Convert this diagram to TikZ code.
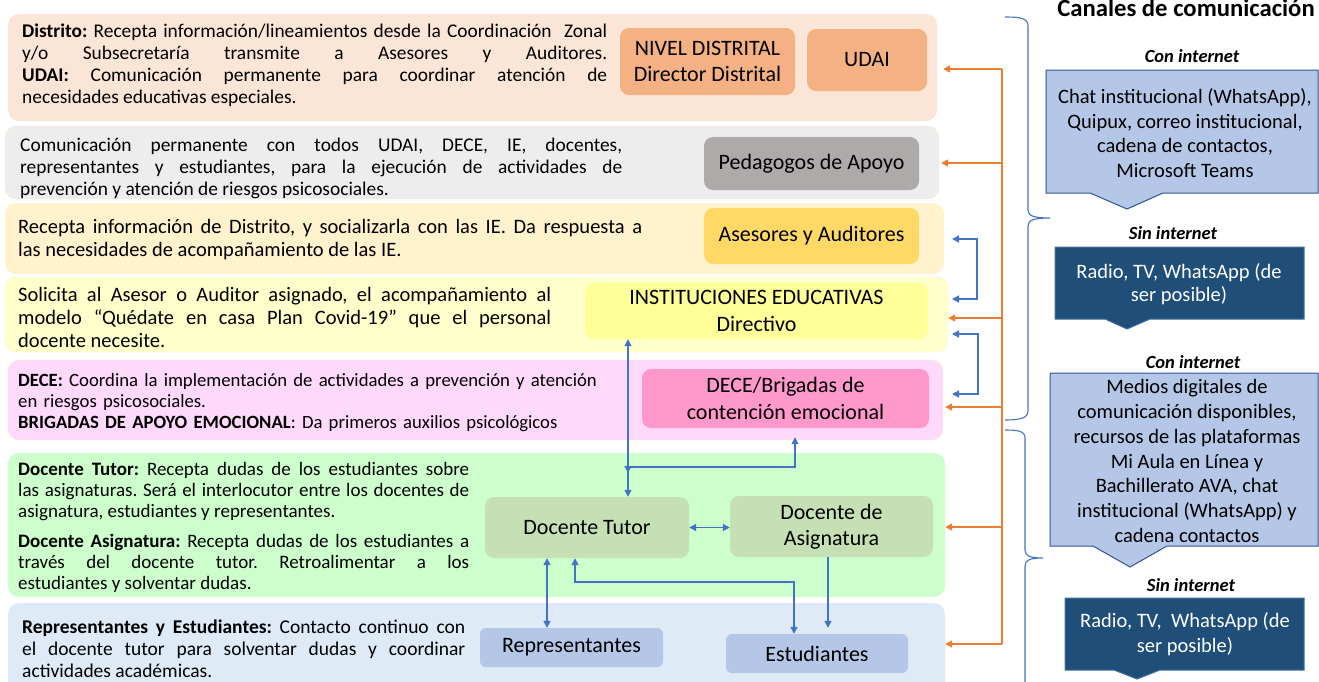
\documentclass[tikz,border=0pt]{standalone}
\usepackage{fontspec}
\setmainfont{Carlito}
\usetikzlibrary{arrows.meta}
\definecolor{bandA}{HTML}{FBE5D6}
\definecolor{bandB}{HTML}{EDEDED}
\definecolor{bandC}{HTML}{FFF2CC}
\definecolor{bandD}{HTML}{FFFFCC}
\definecolor{bandE}{HTML}{FFD9FB}
\definecolor{bandF}{HTML}{CCFFCC}
\definecolor{bandG}{HTML}{DEEBF7}
\definecolor{edgeY}{HTML}{FFF3C4}
\definecolor{boxOr}{HTML}{F4B183}
\definecolor{boxGr}{HTML}{AEAAAA}
\definecolor{boxGo}{HTML}{FFD966}
\definecolor{boxYe}{HTML}{FFFF99}
\definecolor{boxPk}{HTML}{FF99CC}
\definecolor{boxGn}{HTML}{C5E0B4}
\definecolor{boxBl}{HTML}{B4C7E7}
\definecolor{calloutEdge}{HTML}{2F5597}
\definecolor{darkBox}{HTML}{1F4E79}
\definecolor{darkEdge}{HTML}{41719C}
\definecolor{lineBlue}{HTML}{4472C4}
\definecolor{lineOr}{HTML}{ED7D31}
\begin{document}
\frenchspacing
\begin{tikzpicture}[x=1pt,y=-1pt,
  band/.style={rounded corners=11pt, inner sep=0pt, draw=none},
  bx/.style={rounded corners=9pt, inner sep=0pt, align=center, font=\fontsize{22}{26.5}\selectfont},
  txt/.style={anchor=base west, inner sep=0pt, align=justify},
  bline/.style={draw=lineBlue, line width=1.4pt},
  bone/.style={bline, -{Triangle[length=7pt,width=7pt]}},
  bboth/.style={bline, {Triangle[length=7pt,width=7pt]}-{Triangle[length=7pt,width=7pt]}},
  oline/.style={draw=lineOr, line width=1.4pt},
  oone/.style={oline, -{Triangle[length=7pt,width=7pt]}},
  brace/.style={draw=lineBlue, line width=1.1pt},
  lbl/.style={inner sep=0pt, font=\fontsize{18.5}{22}\selectfont\bfseries\itshape},
  callout/.style={fill=boxBl, draw=calloutEdge, line width=1pt},
  darkcallout/.style={fill=darkBox, draw=darkEdge, line width=1pt},
]
\useasboundingbox (0,0) rectangle (1319,681);
\tolerance=10000 \hyphenpenalty=10000

% ---- bands
\node[band, fill=bandA, minimum width=929pt, minimum height=107pt] (b1) at (472.5,67.5) {};
\node[band, fill=bandB, draw=edgeY, minimum width=934pt, minimum height=73pt] (b2) at (472,162.5) {};
\node[band, fill=bandC, minimum width=939pt, minimum height=71pt] (b3) at (474.5,238.5) {};
\node[band, fill=bandD, draw=edgeY, minimum width=943pt, minimum height=75pt] (b4) at (476.5,314.5) {};
\node[band, fill=bandE, draw=edgeY, minimum width=935pt, minimum height=80pt] (b5) at (475.5,400) {};
\node[band, fill=bandF, minimum width=937pt, minimum height=144pt] (b6) at (476.5,525) {};
\node[band, fill=bandG, minimum width=937pt, minimum height=92pt] (b7) at (476.5,649) {};

% ---- band texts
\node[txt, text width=585pt, font=\fontsize{19.4}{22}\selectfont] (t1) at (22,37.5)
 {\textbf{Distrito:} Recepta información/lineamientos desde la Coordinación\ \ Zonal\linebreak
  y/o Subsecretaría transmite a Asesores y Auditores.\linebreak
  \textbf{UDAI:} Comunicación permanente para coordinar atención de\linebreak
  necesidades educativas especiales.};
\node[txt, text width=602pt, font=\fontsize{19.4}{22}\selectfont] (t2) at (20,151.5)
 {Comunicación permanente con todos UDAI, DECE, IE, docentes,\linebreak
  representantes y estudiantes, para la ejecución de actividades de\linebreak
  prevención y atención de riesgos psicosociales.};
\node[txt, text width=624pt, font=\fontsize{20.5}{23}\selectfont] (t3) at (18,233.5)
 {Recepta información de Distrito, y socializarla con las IE. Da respuesta a\linebreak
  las necesidades de acompañamiento de las IE.};
\node[txt, text width=533pt, font=\fontsize{20.5}{23}\selectfont] (t4) at (18,301.5)
 {Solicita al Asesor o Auditor asignado, el acompañamiento al\linebreak
  modelo “Quédate en casa Plan Covid-19” que el personal\linebreak
  docente necesite.};
\node[txt, text width=700pt, align=left, font=\fontsize{18.7}{21}\selectfont] (t5) at (18,386.5)
 {\textbf{DECE:} Coordina la implementación de actividades a prevención y atención\\
  en riesgos psicosociales.\\
  \textbf{BRIGADAS DE APOYO EMOCIONAL}: Da primeros auxilios psicológicos};
\node[txt, text width=451pt, font=\fontsize{19}{21}\selectfont] (t6) at (18,475.5)
 {\textbf{Docente Tutor:} Recepta dudas de los estudiantes sobre\linebreak
  las asignaturas. Será el interlocutor entre los docentes de\linebreak
  asignatura, estudiantes y representantes.\par\vspace{9pt}
  \textbf{Docente Asignatura:} Recepta dudas de los estudiantes a\linebreak
  través del docente tutor. Retroalimentar a los\linebreak
  estudiantes y solventar dudas.};
\node[txt, text width=443pt, font=\fontsize{19.5}{22}\selectfont] (t7) at (22,633.5)
 {\textbf{Representantes y Estudiantes:} Contacto continuo con\linebreak
  el docente tutor para solventar dudas y coordinar\linebreak
  actividades académicas.};

% ---- boxes
\node[bx, fill=boxOr, minimum width=175pt, minimum height=67pt] (nd) at (707.5,61.5) {NIVEL DISTRITAL\\Director Distrital};
\node[bx, fill=boxOr, minimum width=120pt, minimum height=62pt] (udai) at (867,60) {UDAI};
\node[bx, fill=boxGr, minimum width=215pt, minimum height=53pt] (ped) at (811.5,163.5) {Pedagogos de Apoyo};
\node[bx, fill=boxGo, minimum width=215pt, minimum height=56pt] (ase) at (811.5,236) {Asesores y Auditores};
\node[bx, fill=boxYe, minimum width=343pt, minimum height=56pt] (ie) at (756.5,311) {INSTITUCIONES EDUCATIVAS\\Directivo};
\node[bx, fill=boxPk, minimum width=287pt, minimum height=59pt] (dece) at (785.5,398.5) {DECE/Brigadas de\\contención emocional};
\node[bx, fill=boxGn, minimum width=204pt, minimum height=61pt] (dt) at (587,527.5) {Docente Tutor};
\node[bx, fill=boxGn, minimum width=203pt, minimum height=61pt] (da) at (831.5,526.5) {Docente de\\Asignatura};
\node[bx, fill=boxBl, rounded corners=6pt, minimum width=183pt, minimum height=39pt] (rep) at (571.5,647.5) {Representantes};
\node[bx, fill=boxBl, rounded corners=6pt, minimum width=182pt, minimum height=39pt] (est) at (817,653.5) {Estudiantes};

% ---- blue connectors in the flow
\coordinate (c1) at (628,0);
\coordinate (j1) at (628,473);
\coordinate (j2) at (795,467);
\coordinate (c3) at (547,0);
\coordinate (c4) at (575,0);
\coordinate (k1) at (794,582);
\coordinate (c6) at (828,0);
\draw[bboth] (ie.south -| c1) -- (dt.north -| c1);
\draw[bboth, shorten >=9pt] (j1) |- (j2) -- (dece.south -| j2);
\draw[bboth] (dt.east) -- (dt.east -| da.west);
\draw[bboth] (dt.south -| c3) -- (rep.north -| c3);
\draw[bboth] (dt.south -| c4) |- (k1) -- (est.north -| k1);
\draw[bone, shorten >=6pt] (da.south -| c6) -- (est.north -| c6);

% ---- blue side brackets
\coordinate (p1) at (977,239);
\coordinate (p2) at (977,299);
\coordinate (p1e) at (952,239);
\coordinate (p2e) at (952,299);
\coordinate (p3) at (978,334);
\coordinate (p4) at (978,394);
\coordinate (p3e) at (952,334);
\coordinate (p4e) at (952,394);
\draw[bboth] (p1e) -- (p1) -- (p2) -- (p2e);
\draw[bboth] (p3e) -- (p3) -- (p4) -- (p4e);

% ---- orange trunk
\coordinate (o1) at (1002,69);
\coordinate (o2) at (1002,163);
\coordinate (o3) at (1002,318);
\coordinate (o4) at (1002,407);
\coordinate (o5) at (1002,527);
\coordinate (o6) at (1002,644);
\draw[oline] (o1) -- (o6);
\draw[oone] (o1) -- ([xshift=6pt]o1 -| b1.east);
\draw[oone] (o2) -- ([xshift=2pt]o2 -| b2.east);
\draw[oone] (o3) -- (o3 -| b4.east);
\draw[oone] (o4) -- ([xshift=2pt]o4 -| b5.east);
\draw[oone] (o5) -- (o5 -| b6.east);
\draw[oone] (o6) -- (o6 -| b7.east);

% ---- braces
\draw[brace] (1005,17) .. controls (1020,17) and (1028,18) .. (1028,26) -- (1028,210)
  .. controls (1028,216) and (1034,218) .. (1050,218)
  .. controls (1034,218) and (1028,220) .. (1028,226) -- (1028,411)
  .. controls (1028,418) and (1020,420) .. (1005,420);
\draw[brace] (1005,430) .. controls (1018,430) and (1025,431) .. (1025,438) -- (1025,550)
  .. controls (1025,556) and (1030,558) .. (1043,558)
  .. controls (1030,558) and (1025,560) .. (1025,566) -- (1025,700);

% ---- right column
\node[inner sep=0pt, anchor=base, font=\fontsize{24.7}{28}\selectfont\bfseries] (title) at (1186,16) {Canales de comunicación};
\node[lbl] (con1) at (1192,56) {Con internet};
\draw[callout] (1046,70) -- (1318,70) -- (1318,193) -- (1163,193) -- (1127,209) -- (1090,193) -- (1046,193) -- cycle;
\node[align=center, inner sep=0pt, font=\fontsize{20.5}{24.5}\selectfont] (ch1) at (1185,133)
  {Chat institucional (WhatsApp),\\Quipux, correo institucional,\\cadena de contactos,\\Microsoft Teams};
\node[lbl] (sin1) at (1173,233) {Sin internet};
\draw[darkcallout] (1055,247) -- (1304,247) -- (1304,319) -- (1150,319) -- (1127,329) -- (1105,319) -- (1055,319) -- cycle;
\node[align=center, inner sep=0pt, text=white, font=\fontsize{20.5}{23}\selectfont] (rd1) at (1179,284.5)
  {Radio, TV, WhatsApp (de\\ser posible)};
\node[lbl] (con2) at (1193,362) {Con internet};
\draw[callout] (1050,373) -- (1318,373) -- (1318,546) -- (1167,546) -- (1130,567) -- (1093,546) -- (1050,546) -- cycle;
\node[align=center, inner sep=0pt, font=\fontsize{20.5}{24.7}\selectfont] (ch2) at (1187,461)
  {Medios digitales de\\comunicación disponibles,\\recursos de las plataformas\\Mi Aula en Línea y\\Bachillerato AVA, chat\\institucional (WhatsApp) y\\cadena contactos};
\node[lbl] (sin2) at (1191,585) {Sin internet};
\draw[darkcallout] (1065,598) -- (1304,598) -- (1304,670) -- (1160,670) -- (1137,679) -- (1114,670) -- (1065,670) -- cycle;
\node[align=center, inner sep=0pt, text=white, font=\fontsize{20.5}{25}\selectfont] (rd2) at (1185,634.5)
  {Radio, TV,\ \ WhatsApp (de\\ser posible)};
\end{tikzpicture}
\end{document}
